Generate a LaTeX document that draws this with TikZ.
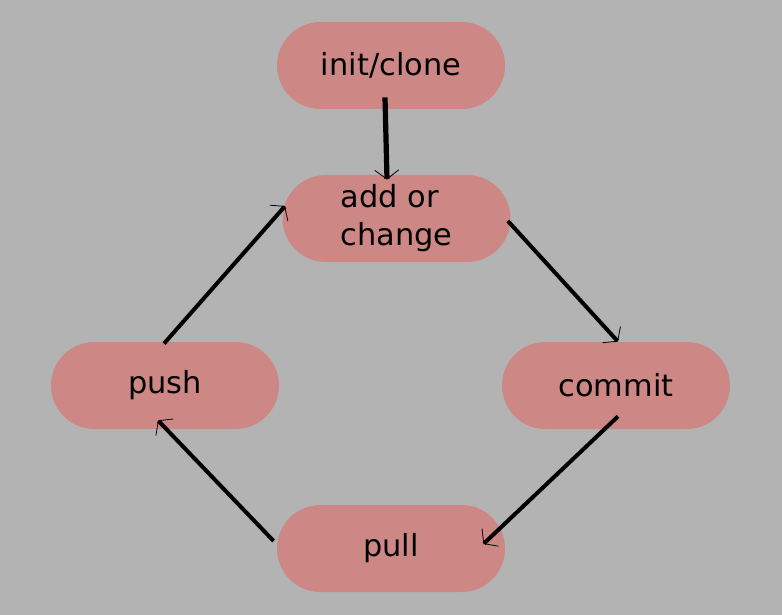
\documentclass[tikz,border=0pt]{standalone}
\usepackage{fontspec}
\setmainfont{DejaVu Sans}
\usepackage{tikz}
\usetikzlibrary{arrows.meta, calc}
\definecolor{bggray}{HTML}{B3B3B3}
\definecolor{pillred}{HTML}{CD8785}

\begin{document}
\begin{tikzpicture}[x=0.5pt, y=-0.5pt,
	state/.style={fill=pillred, rounded corners=21.7pt, minimum width=114pt, minimum height=43.5pt, inner sep=0pt, font=\fontsize{15.2}{19}\selectfont},
	flow/.style={line width=2pt, -{Straight Barb[length=4.5pt, width=12pt, line width=0.4pt]}}]

	\fill[bggray] (0,0) rectangle (782,615);

	\node[state] (init) at (391,65.5) {init/clone};
	\node[state, align=left] (add) at (396.5,218.5) {add or\\change};
	\node[state] (push) at (165,385.5) {push};
	\node[state] (commit) at (616,385.5) {commit};
	\node[state] (pull) at (391,548.5) {pull};

	\draw[flow, line width=2.6pt] ($ (init.south)+(-6,-12) $) -- ($ (add.north)+(-9.5,5) $);
	\draw[flow] ($ (add.east)+(-3,2.5) $) -- ($ (commit.north)+(2,0) $);
	\draw[flow] ($ (commit.south)+(2,-13) $) -- ($ (pull.east)+(-22,-4.5) $);
	\draw[flow] ($ (pull.west)+(-3,-7.5) $) -- ($ (push.south)+(-7,-9) $);
	\draw[flow] ($ (push.north)+(-1,2) $) -- ($ (add.west)+(3,-12.5) $);

\end{tikzpicture}
\end{document}
